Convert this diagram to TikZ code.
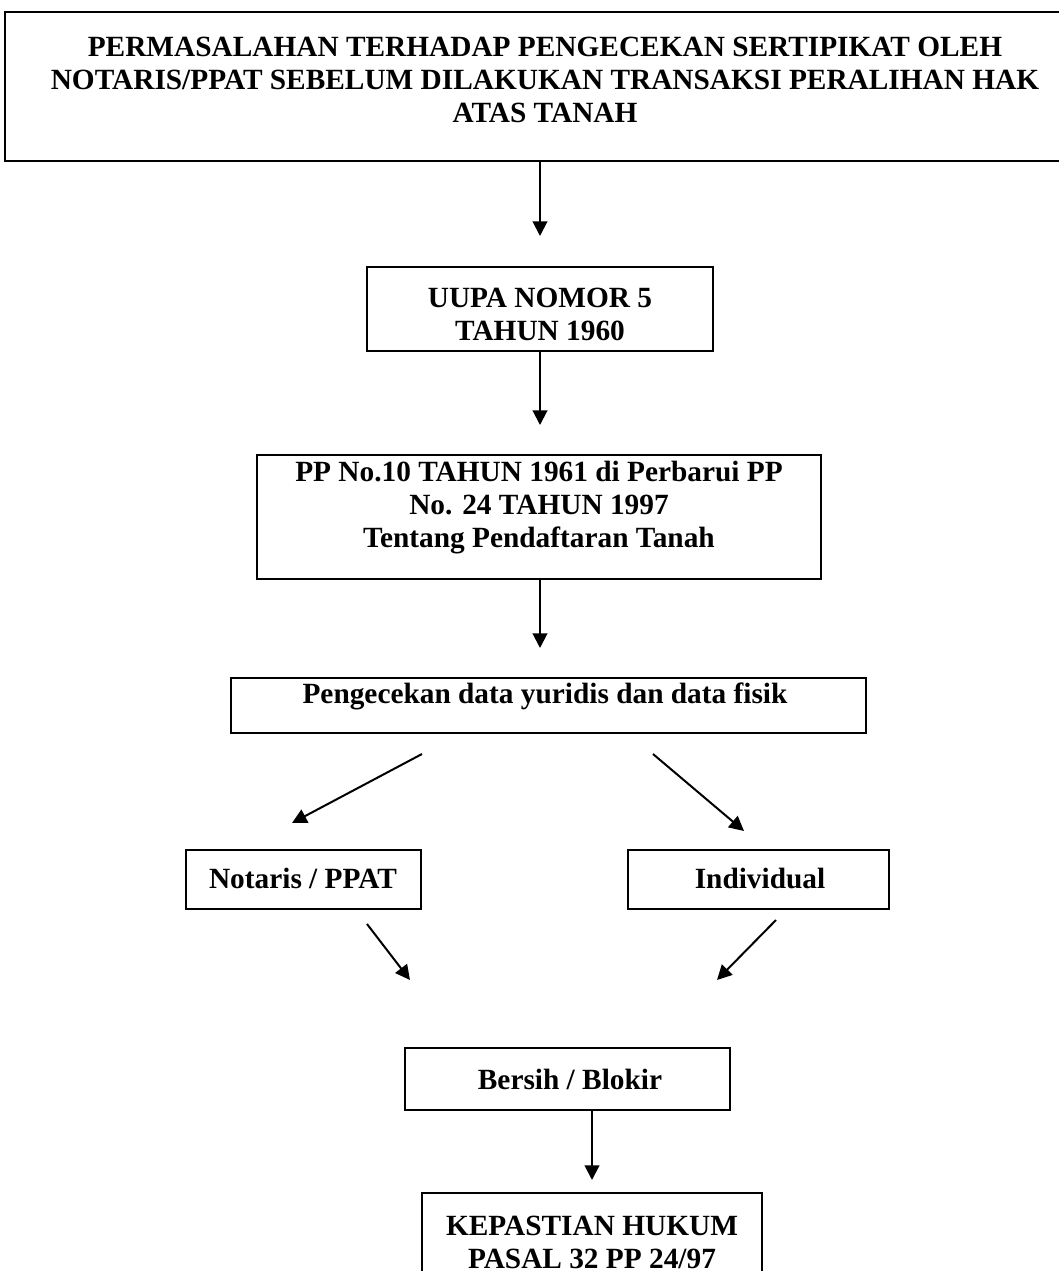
\documentclass[tikz,border=0pt]{standalone}
\usepackage{fontspec}
\setmainfont{Liberation Serif}
\usetikzlibrary{arrows.meta}
\begin{document}
\begin{tikzpicture}[x=0.75pt,y=-0.75pt,
  box/.style={draw,line width=1.5pt,rectangle,inner sep=0pt},
  lbl/.style={font=\fontsize{22}{24.75}\selectfont\bfseries,align=center,inner sep=0pt},
  arr/.style={line width=1.5pt,-{Triangle[length=11pt,width=11pt]}}]
\useasboundingbox (0,0) rectangle (1059,1271);
\clip (0,0) rectangle (1059,1271);
% boxes
\node[box,minimum width=1084*0.75pt,minimum height=149*0.75pt] (top) at (547,86.5) {};
\node[box,minimum width=346*0.75pt,minimum height=84*0.75pt] (uupa) at (540,309) {};
\node[box,minimum width=564*0.75pt,minimum height=124*0.75pt] (pp) at (539,517) {};
\node[box,minimum width=635*0.75pt,minimum height=55*0.75pt] (cek) at (548.5,705.5) {};
\node[box,minimum width=235*0.75pt,minimum height=59*0.75pt] (not) at (303.5,879.5) {};
\node[box,minimum width=261*0.75pt,minimum height=59*0.75pt] (ind) at (758.5,879.5) {};
\node[box,minimum width=325*0.75pt,minimum height=62*0.75pt] (ber) at (567.5,1079) {};
\node[box,minimum width=340*0.75pt,minimum height=110*0.75pt] (kep) at (592,1248) {};
% texts
\node[lbl] (ttop) at (545,80) {PERMASALAHAN TERHADAP PENGECEKAN SERTIPIKAT OLEH\\NOTARIS/PPAT SEBELUM DILAKUKAN TRANSAKSI PERALIHAN HAK\\ATAS TANAH};
\node[lbl] (tuupa) at (540,314) {UUPA NOMOR 5\\TAHUN 1960};
\node[lbl] (tpp) at (539,508) {PP No.10 TAHUN 1961 di Perbarui PP\\No. 24 TAHUN 1997\\Tentang Pendaftaran Tanah};
\node[lbl] (tcek) at (545,696) {Pengecekan data yuridis dan data fisik};
\node[lbl] (tnot) at (303,878) {Notaris / PPAT};
\node[lbl] (tind) at (760,878) {Individual};
\node[lbl] (tber) at (570,1079) {Bersih / Blokir};
\node[lbl] (tkep) at (592,1242) {KEPASTIAN HUKUM\\PASAL 32 PP 24/97};
% arrow endpoints
\coordinate (e1) at (540,236);
\coordinate (e2) at (540,425);
\coordinate (e3) at (540,648);
\coordinate (s4) at (422,754); \coordinate (e4) at (292,823);
\coordinate (s5) at (653,754); \coordinate (e5) at (744,831);
\coordinate (s6) at (367,924); \coordinate (e6) at (410,980);
\coordinate (s7) at (776,920); \coordinate (e7) at (717,980);
\coordinate (e8) at (592,1180);
% arrows
\draw[arr] (top.south -| e1) -- (e1);
\draw[arr] (uupa.south -| e2) -- (e2);
\draw[arr] (pp.south -| e3) -- (e3);
\draw[arr] (s4) -- (e4);
\draw[arr] (s5) -- (e5);
\draw[arr] (s6) -- (e6);
\draw[arr] (s7) -- (e7);
\draw[arr] (ber.south -| e8) -- (e8);
\end{tikzpicture}
\end{document}
